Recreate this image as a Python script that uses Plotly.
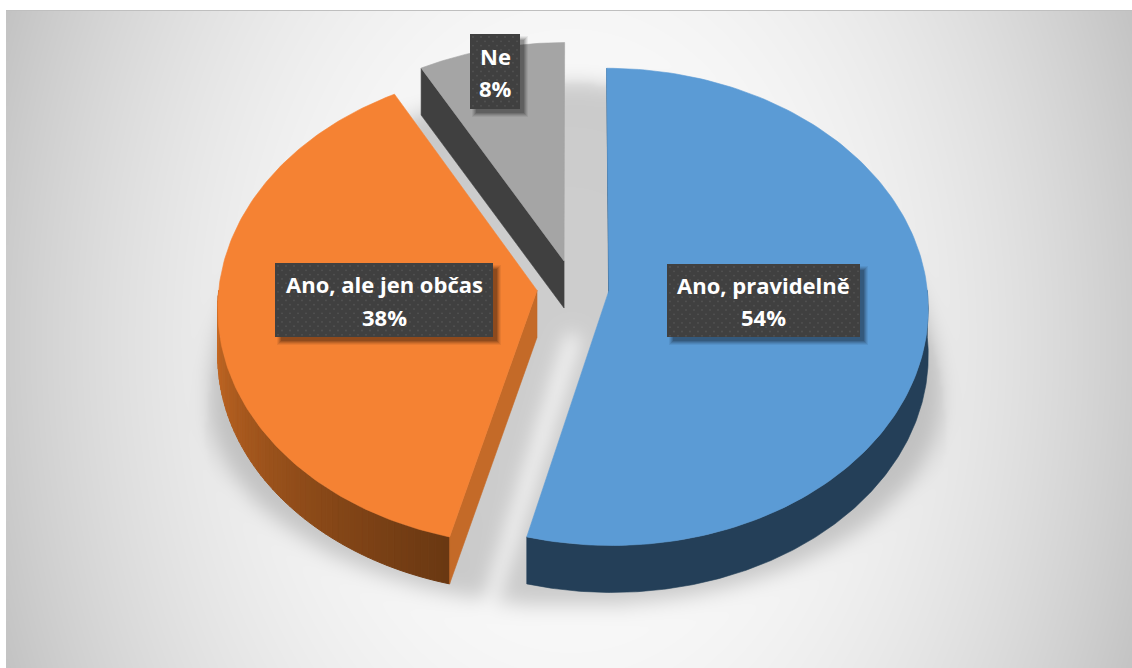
import numpy as np
import plotly.graph_objects as go

# Shares of the three answers, clockwise from twelve o'clock
categories = ["Ano, pravidelně", "Ano, ale jen občas", "Ne"]
shares = [54, 38, 8]
label_centers = [(763.5, 300.5), (384, 300), (495, 71.5)]
label_sizes = [(193, 73), (218, 74), (50, 75)]

W, H = 1132, 668
CX, CY = 573.0, 287.0   # where the undisplaced pie axis lands
RX, RY = 318.0, 237.0   # radii of the top face
PERSP = 0.069           # strength of the perspective
EXPLODE = 0.114         # displacement of each slice, in radii
DEPTH = 47.0            # thickness of the pie in pixels

TOP = ["#5B9BD5", "#F58233", "#A5A5A5"]


def project(a, b, drop=0.0):
    """World position on the pie plane (a right, b towards the viewer) to page pixels."""
    s = 1.0 / (1.0 - PERSP * np.asarray(b))
    return CX + RX * np.asarray(a) * s, CY + RY * np.asarray(b) * s + drop


def rim(theta, off):
    return np.sin(theta) + off[0], -np.cos(theta) + off[1]


# Slice angles and offsets follow from the shares
total = sum(shares)
edges = np.cumsum([0] + shares) / total * 2 * np.pi
slices = []
for i in range(len(shares)):
    t0, t1 = edges[i], edges[i + 1]
    mid = (t0 + t1) / 2
    off = (EXPLODE * np.sin(mid), -EXPLODE * np.cos(mid))
    slices.append((t0, t1, off))


def top_outline(i, drop=0.0):
    t0, t1, off = slices[i]
    th = np.linspace(t0, t1, 160)
    a, b = rim(th, off)
    x, y = project(a, b, drop)
    ax, ay = project(off[0], off[1], drop)
    return np.r_[ax, x, ax], np.r_[ay, y, ay]


def rasterize(px, py, xx, yy):
    """Even-odd fill of a polygon on a pixel grid."""
    inside = np.zeros(xx.shape, bool)
    n = len(px)
    for k in range(n - 1):
        x0, y0, x1, y1 = px[k], py[k], px[k + 1], py[k + 1]
        if y0 == y1:
            continue
        cond = (y0 <= yy) != (y1 <= yy)
        xc = x0 + (yy - y0) * (x1 - x0) / (y1 - y0)
        inside ^= cond & (xx < xc)
    return inside.astype(float)


def blur(img, sigma):
    r = int(sigma * 3) + 1
    ker = np.exp(-0.5 * (np.arange(-r, r + 1) / sigma) ** 2)
    ker /= ker.sum()
    pad = np.pad(img, r, mode="edge")
    pad = np.apply_along_axis(lambda m: np.convolve(m, ker, "same"), 0, pad)
    pad = np.apply_along_axis(lambda m: np.convolve(m, ker, "same"), 1, pad)
    return pad[r:-r, r:-r]


# Backdrop: wide radial gradient, dark towards the sides, plus the soft pie shadow
STEP = 3
gx = np.arange(7.5, W + STEP, STEP, dtype=float)
gy = np.arange(11.5, H + STEP, STEP, dtype=float)
xx, yy = np.meshgrid(gx, gy)
t = np.hypot((xx - 570) / 564, (yy - 340) / 800)
backdrop = 252 - 48 * t ** 2.3

# Main shadow: a blurred egg-shaped disc lying a little lower than the pie
ry_disc = np.where(yy < 400, 317.0, 205.0)
disc = (((xx - 574) / 365) ** 2 + ((yy - 400) / ry_disc) ** 2 <= 1).astype(float)
disc = blur(disc, 10 / STEP)

# Faint wider cast that flares out downwards and dies away near the pie's waist
ry_egg = np.where(yy < 440, 357.0, 165.0)
flare = (((xx - 575) / 370) ** 2 + ((yy - 440) / ry_egg) ** 2 <= 1).astype(float)
flare = blur(flare, 2 / STEP) * np.clip((490 - yy) / 120, 0, 1)
shadow = 1 - (1 - disc) * (1 - 0.25 * flare)

# Lighter channel where the gap between the two big slices lets light through
ax0, ay0 = project(*slices[0][2], DEPTH)
bx0, by0 = project(*slices[1][2], DEPTH)
ax1, ay1 = project(*rim(slices[0][1], slices[0][2]), DEPTH)
bx1, by1 = project(*rim(slices[1][0], slices[1][2]), DEPTH)
mx0, my0 = (ax0 + bx0) / 2, (ay0 + by0) / 2 - 4
mx1, my1 = (ax1 + bx1) / 2 - 12, (ay1 + by1) / 2 + 60
gap_x = np.array([mx0 - 7, mx0 + 7, mx1 + 7, mx1 - 7, mx0 - 7])
gap_y = np.array([my0, my0, my1, my1, my0])
gap = blur(rasterize(gap_x, gap_y, xx, yy), 9 / STEP)

shadow = shadow * (1 - gap)
bg = backdrop * (1 - 0.185 * shadow)

fig = go.Figure()
fig.add_trace(go.Heatmap(
    x=gx, y=gy, z=bg, zmin=0, zmax=255, zsmooth="best", showscale=False,
    colorscale=[[0, "rgb(0,0,0)"], [1, "rgb(255,255,255)"]], hoverinfo="skip"))


def poly(x, y, color, edge=0.6):
    fig.add_trace(go.Scatter(
        x=x, y=y, mode="lines", fill="toself", fillcolor=color,
        line=dict(color=color, width=edge), hoverinfo="skip", showlegend=False))


def blend(c0, c1, f):
    return "rgb(%d,%d,%d)" % tuple(round(p + (q - p) * f) for p, q in zip(c0, c1))


def radial_face(i, theta, color):
    off = slices[i][2]
    ax, ay = project(off[0], off[1])
    rx, ry = project(*rim(theta, off))
    poly([ax, rx, rx, ax, ax], [ay, ry, ry + DEPTH, ay + DEPTH, ay], color)


def wall(i, t_from, t_to, c_from, c_to, n=44):
    off = slices[i][2]
    ths = np.linspace(t_from, t_to, n + 1)
    for k in range(n):
        th = np.linspace(ths[k], ths[k + 1], 4)
        x, y = project(*rim(th, off))
        poly(np.r_[x, x[::-1], x[0]], np.r_[y, y[::-1] + DEPTH, y[0]],
             blend(c_from, c_to, k / max(n - 1, 1)), edge=1.0)


# Grey slice: the face cut along its left edge is the one that shows
radial_face(2, slices[2][0], "#404040")
x, y = top_outline(2)
poly(x, y, TOP[2])

# Orange slice: outer wall runs from the left extreme down to the front cut
wall(1, slices[1][0], 1.5 * np.pi, (0x6A, 0x38, 0x12), (0xC8, 0x6A, 0x24), n=60)
radial_face(1, slices[1][0], "#C46A28")
x, y = top_outline(1)
poly(x, y, TOP[1])

# Blue slice: front wall plus a sliver of the cut at twelve o'clock
radial_face(0, 0.0, "#2C5A84")
off0 = slices[0][2]
th = np.linspace(0.5 * np.pi, slices[0][1], 200)
wx, wy = project(*rim(th, off0))
poly(np.r_[wx, wx[::-1], wx[0]], np.r_[wy, wy[::-1] + DEPTH, wy[0]], "#243F58")
x, y = top_outline(0)
poly(x, y, TOP[0])

# Data labels: dark dotted plates with a soft drop shadow
annotations = []
for name, value, (lx, ly), (bw, bh) in zip(categories, shares, label_centers, label_sizes):
    x0, x1, y0, y1 = lx - bw / 2, lx + bw / 2, ly - bh / 2, ly + bh / 2
    for grow, alpha in ((3, 0.06), (2, 0.08), (1, 0.10), (0, 0.12), (-1, 0.14)):
        sx0, sx1 = x0 + 5 - grow, x1 + 5 + grow
        sy0, sy1 = y0 + 5 - grow, y1 + 5 + grow
        poly([sx0, sx1, sx1, sx0, sx0], [sy0, sy0, sy1, sy1, sy0],
             f"rgba(0,0,0,{alpha})", edge=0)
    poly([x0, x1, x1, x0, x0], [y0, y0, y1, y1, y0], "#404040", edge=0)
    dx, dy = np.meshgrid(np.arange(x0 + 3, x1 - 1, 8.0), np.arange(y0 + 3, y1 - 1, 4.3))
    dx[1::2] += 4.0
    keep = dx < x1 - 1
    fig.add_trace(go.Scatter(
        x=dx[keep], y=dy[keep], mode="markers",
        marker=dict(size=1.8, color="#535353", line=dict(width=0)),
        hoverinfo="skip", showlegend=False))
    for line_text, shift in ((name, -16), (f"{value}%", 16.5)):
        annotations.append(dict(
            x=lx, y=ly + shift, xref="x", yref="y", showarrow=False, align="center",
            text=line_text,
            font=dict(family="Open Sans", size=22, color="#FFFFFF", weight=700)))

fig.update_layout(
    width=W, height=H, margin=dict(l=0, r=0, t=0, b=0),
    paper_bgcolor="#FFFFFF", plot_bgcolor="#FFFFFF", showlegend=False,
    xaxis=dict(range=[0, W], visible=False, fixedrange=True),
    yaxis=dict(range=[H, 0], visible=False, fixedrange=True),
    annotations=annotations,
    shapes=[dict(type="line", xref="x", yref="y", x0=6, x1=W, y0=10.5, y1=10.5,
                 line=dict(color="#BFBFBF", width=1))])
fig.write_html("out.html", config=dict(displayModeBar=False))
